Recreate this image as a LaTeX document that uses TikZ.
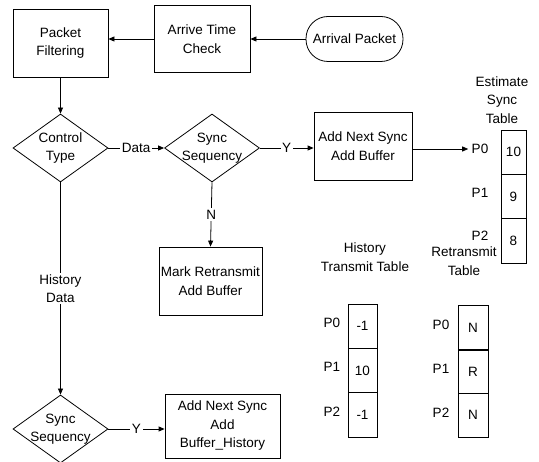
\documentclass[tikz,border=0pt]{standalone}
\usepackage{fontspec}
\setmainfont{Liberation Sans}
\usepackage{tikz}
\usetikzlibrary{shapes.geometric, positioning, arrows.meta}

\begin{document}
\begin{tikzpicture}[x=1pt, y=-1pt,
    font=\fontsize{13.5}{18.5}\selectfont,
    box/.style={draw, thick, rectangle, align=center, inner sep=2pt},
    decision/.style={draw, thick, diamond, minimum width=95pt, minimum height=68pt, inner sep=0pt},
    cell/.style={draw, thick, rectangle, minimum width=#1, minimum height=44.3pt, inner sep=0pt},
    flow/.style={thick, -{Triangle[length=6pt, width=5pt]}},
    lbl/.style={fill=white, inner sep=1.5pt}]
        \useasboundingbox (0,0) rectangle (539,462);

        % Top row: incoming packet
        \node[draw, thick, rounded corners=22pt, minimum width=97pt, minimum height=45pt] (arrival) at (354.5,39) {Arrival Packet};
        \node[box, minimum width=96pt, minimum height=67pt] (check) at (202,39) {Arrive Time\\Check};
        \node[box, minimum width=95pt, minimum height=68pt] (filter) at (60.5,43) {Packet\\Filtering};

        % Decisions
        \node[decision, label={[align=center]center:Control\\Type}] (ctrl) at (60.5,148) {};
        \node[decision, label={[align=center]center:Sync\\Sequency}] (syncA) at (212,148) {};
        \node[decision, label={[align=center]center:Sync\\Sequency}] (syncB) at (60.5,429) {};

        % Actions
        \node[box, minimum width=98pt, minimum height=68pt] (addA) at (363,146) {Add Next Sync\\Add Buffer};
        \node[box, minimum width=97pt, minimum height=68pt] (mark) at (210.5,281) {Mark Retransmit\\Add Buffer};
        \node[box, minimum width=115pt, minimum height=64pt] (addB) at (222.5,426) {Add Next Sync\\Add\\Buffer\_History};

        % Estimate sync table
        \node[align=center] (estT) at (502,100) {Estimate\\Sync\\Table};
        \foreach \v [count=\i from 0] in {10,9,8} {
            \node[cell=25pt] (est\i) at (513.5,152.2+44.3*\i) {\v};
            \node (pest\i) at (480,149+43.5*\i) {P\i};
        }

        % History transmit table
        \node[align=center] (histT) at (365,257) {History\\Transmit Table};
        \foreach \v [count=\i from 0] in {-1,10,-1} {
            \node[cell=29pt] (hist\i) at (362.5,326.2+44.3*\i) {\v};
            \node (phist\i) at (332,323+44.3*\i) {P\i};
        }

        % Retransmit table
        \node[align=center] (retrT) at (464,261) {Retransmit\\Table};
        \foreach \v [count=\i from 0] in {N,R,N} {
            \node[cell=30pt] (retr\i) at (473,327.8+43.7*\i) {\v};
            \node (pretr\i) at (441,325+43.7*\i) {P\i};
        }

        % Connectors
        \draw[flow] (arrival.west) -- (check.east);
        \draw[flow] (check.west) -- (check.west -| filter.east);
        \draw[flow] (filter.south) -- (ctrl.north);
        \draw[flow] (ctrl.east) -- node[lbl] {Data} (syncA.west);
        \draw[flow] (syncA.east) -- node[lbl] {Y} (syncA.east -| addA.west);
        \draw[flow] (syncA.south) -- node[lbl] {N} (mark.north);
        \draw[flow] (addA.east |- pest0) -- (pest0.west);
        \draw[flow] (ctrl.south) -- node[lbl, align=center] {History\\Data} (syncB.north);
        \draw[flow] (syncB.east) -- node[lbl] {Y} (syncB.east -| addB.west);
    \end{tikzpicture}
\end{document}
